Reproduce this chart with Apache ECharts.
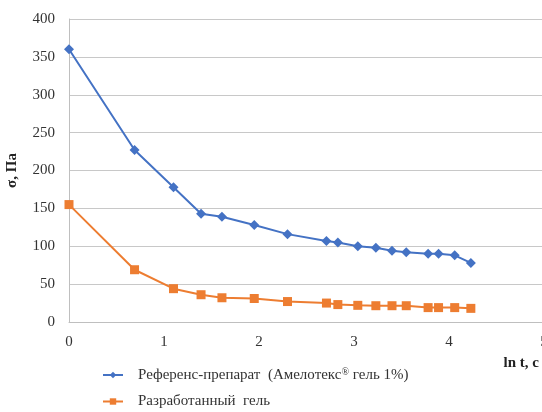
<!DOCTYPE html>
<html><head><meta charset="utf-8">
<script src="https://cdn.jsdelivr.net/npm/echarts@6/dist/echarts.min.js"></script>
<style>html,body{margin:0;padding:0;background:#fff}#c{width:542px;height:412px}</style>
</head><body><div id="c"></div>
<script>
const lnT = [0, 0.69, 1.10, 1.39, 1.61, 1.95, 2.30, 2.71, 2.83, 3.04, 3.23, 3.40, 3.55, 3.78, 3.89, 4.06, 4.23];
const referenceValues = [360, 227, 178, 143, 139, 128, 116, 107, 105, 100, 98, 94, 92, 90, 90, 88, 78];
const developedValues = [155, 69, 44, 36, 32, 31, 27, 25, 23, 22, 21.5, 21.5, 21.5, 19, 19, 19, 18];
const seriesNames = ['Референс-препарат  (Амелотекс® гель 1%)', 'Разработанный  гель'];
const xTicks = [0, 1, 2, 3, 4, 5];
const yTicks = [0, 50, 100, 150, 200, 250, 300, 350, 400];

const font = '"Liberation Serif", "Times New Roman", serif';
const legendText = { fontFamily: font, fontSize: 15, color: '#333', padding: [0, 0, 0, 10],
  rich: { sup: { fontFamily: font, fontSize: 10, verticalAlign: 'top', padding: [0, 0, 6, 0], color: '#333' } } };
function legendOf(name, top) {
  return { orient: 'horizontal', left: 97, top: top, itemWidth: 20, itemHeight: 8, data: [name],
    formatter: function (n) { return n.replace('®', '{sup|®}'); }, textStyle: legendText };
}
const chart = echarts.init(document.getElementById('c'));
chart.setOption({
  animation: false,
  textStyle: { fontFamily: font },
  grid: { left: 69, top: 19, width: 475, height: 303, outerBoundsMode: 'none', containLabel: false },
  xAxis: {
    type: 'value', min: xTicks[0], max: xTicks[xTicks.length - 1], interval: 1,
    name: 'ln t, c', nameLocation: 'end', nameGap: 0,
    nameTextStyle: { fontFamily: font, fontWeight: 'bold', fontSize: 15, color: '#222', align: 'right', verticalAlign: 'top', padding: [34, 5, 0, 0] },
    axisLine: { show: true, lineStyle: { color: '#bfbfbf', width: 1 } },
    axisTick: { show: false },
    splitLine: { show: false },
    axisLabel: { fontFamily: font, fontSize: 15, color: '#333', margin: 13 }
  },
  yAxis: {
    type: 'value', min: yTicks[0], max: yTicks[yTicks.length - 1], interval: 50,
    name: 'σ, Па', nameLocation: 'middle', nameGap: 49, nameRotate: 90,
    nameTextStyle: { fontFamily: font, fontWeight: 'bold', fontSize: 15, color: '#222' },
    axisLine: { show: true, lineStyle: { color: '#bfbfbf', width: 1 } },
    axisTick: { show: false },
    splitLine: { show: true, lineStyle: { color: '#c8c8c8', width: 1 } },
    axisLabel: { fontFamily: font, fontSize: 15, color: '#333', margin: 14 }
  },
  legend: [legendOf(seriesNames[0], 362), legendOf(seriesNames[1], 389)],
  series: [
    { name: seriesNames[0], type: 'line', data: lnT.map((x, i) => [x, referenceValues[i]]),
      symbol: 'diamond', symbolSize: 10, itemStyle: { color: '#4472C4' }, lineStyle: { color: '#4472C4', width: 2 } },
    { name: seriesNames[1], type: 'line', data: lnT.map((x, i) => [x, developedValues[i]]),
      symbol: 'rect', symbolSize: 9, itemStyle: { color: '#ED7D31' }, lineStyle: { color: '#ED7D31', width: 2 } }
  ]
});
</script></body></html>
